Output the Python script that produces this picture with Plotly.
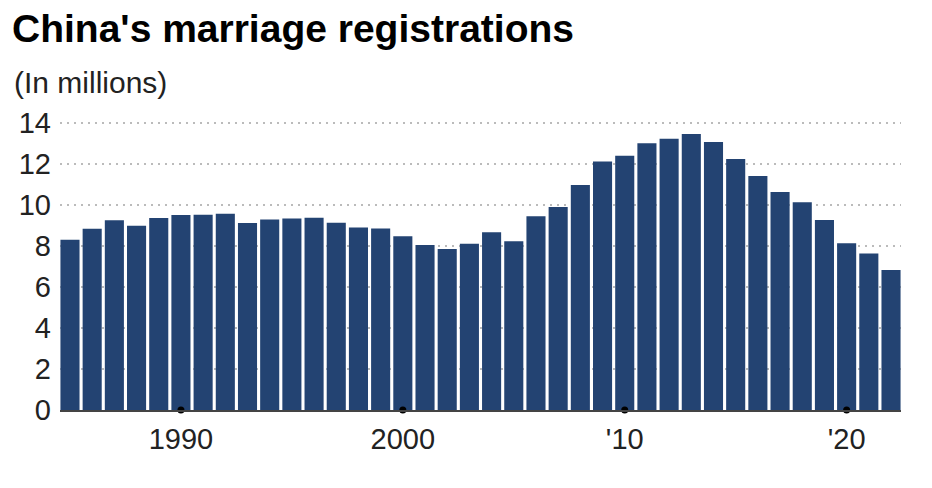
import plotly.graph_objects as go

years = list(range(1985, 2023))
marriages = [8.31, 8.84, 9.26, 8.99, 9.37, 9.51, 9.53, 9.57, 9.12, 9.29,
             9.34, 9.38, 9.14, 8.91, 8.85, 8.48, 8.05, 7.86, 8.11, 8.67,
             8.23, 9.45, 9.91, 10.98, 12.12, 12.41, 13.02, 13.24, 13.47, 13.07,
             12.25, 11.42, 10.63, 10.14, 9.27, 8.13, 7.64, 6.83]
tick_vals = [1990, 2000, 2010, 2020]
tick_text = ["1990", "2000", "'10", "'20"]

font = "Liberation Sans, Arial, sans-serif"

fig = go.Figure()
fig.add_trace(go.Bar(x=years, y=marriages, marker_color="#234372",
                     marker_line_width=0, hoverinfo="x+y"))
# small dots marking the decade ticks on the baseline
fig.add_trace(go.Scatter(x=tick_vals, y=[0] * len(tick_vals), mode="markers",
                         marker=dict(color="black", size=7),
                         cliponaxis=False, hoverinfo="skip"))

# page body adds an 8px margin, so the figure is sized to fit inside it
fig.update_layout(
    width=916, height=472,
    margin=dict(l=52, r=23, t=113, b=70),
    paper_bgcolor="white", plot_bgcolor="white",
    showlegend=False, bargap=0.14,
    font=dict(family=font, size=29, color="#222"),
    title=dict(text="<b>China's marriage registrations</b>", x=0.0044, xanchor="left",
               y=0.957, yanchor="middle", font=dict(size=39, color="black")),
    annotations=[dict(text="(In millions)", xref="paper", yref="paper",
                      x=-0.0571, y=1.1315, xanchor="left", yanchor="middle",
                      showarrow=False, font=dict(size=30, color="#222"))],
)
fig.update_xaxes(range=[1984.55, 2022.45], tickvals=tick_vals, ticktext=tick_text,
                 showgrid=False, showline=True, linecolor="#444", linewidth=1.5,
                 ticks="", zeroline=False, ticklabelstandoff=2)
fig.update_yaxes(range=[0, 14.1], tickvals=[0, 2, 4, 6, 8, 10, 12, 14],
                 showgrid=True, gridcolor="#bbb", griddash="2px,5px", gridwidth=1.5,
                 zeroline=False, ticks="", ticklabelstandoff=8)

fig.write_html("out.html")
